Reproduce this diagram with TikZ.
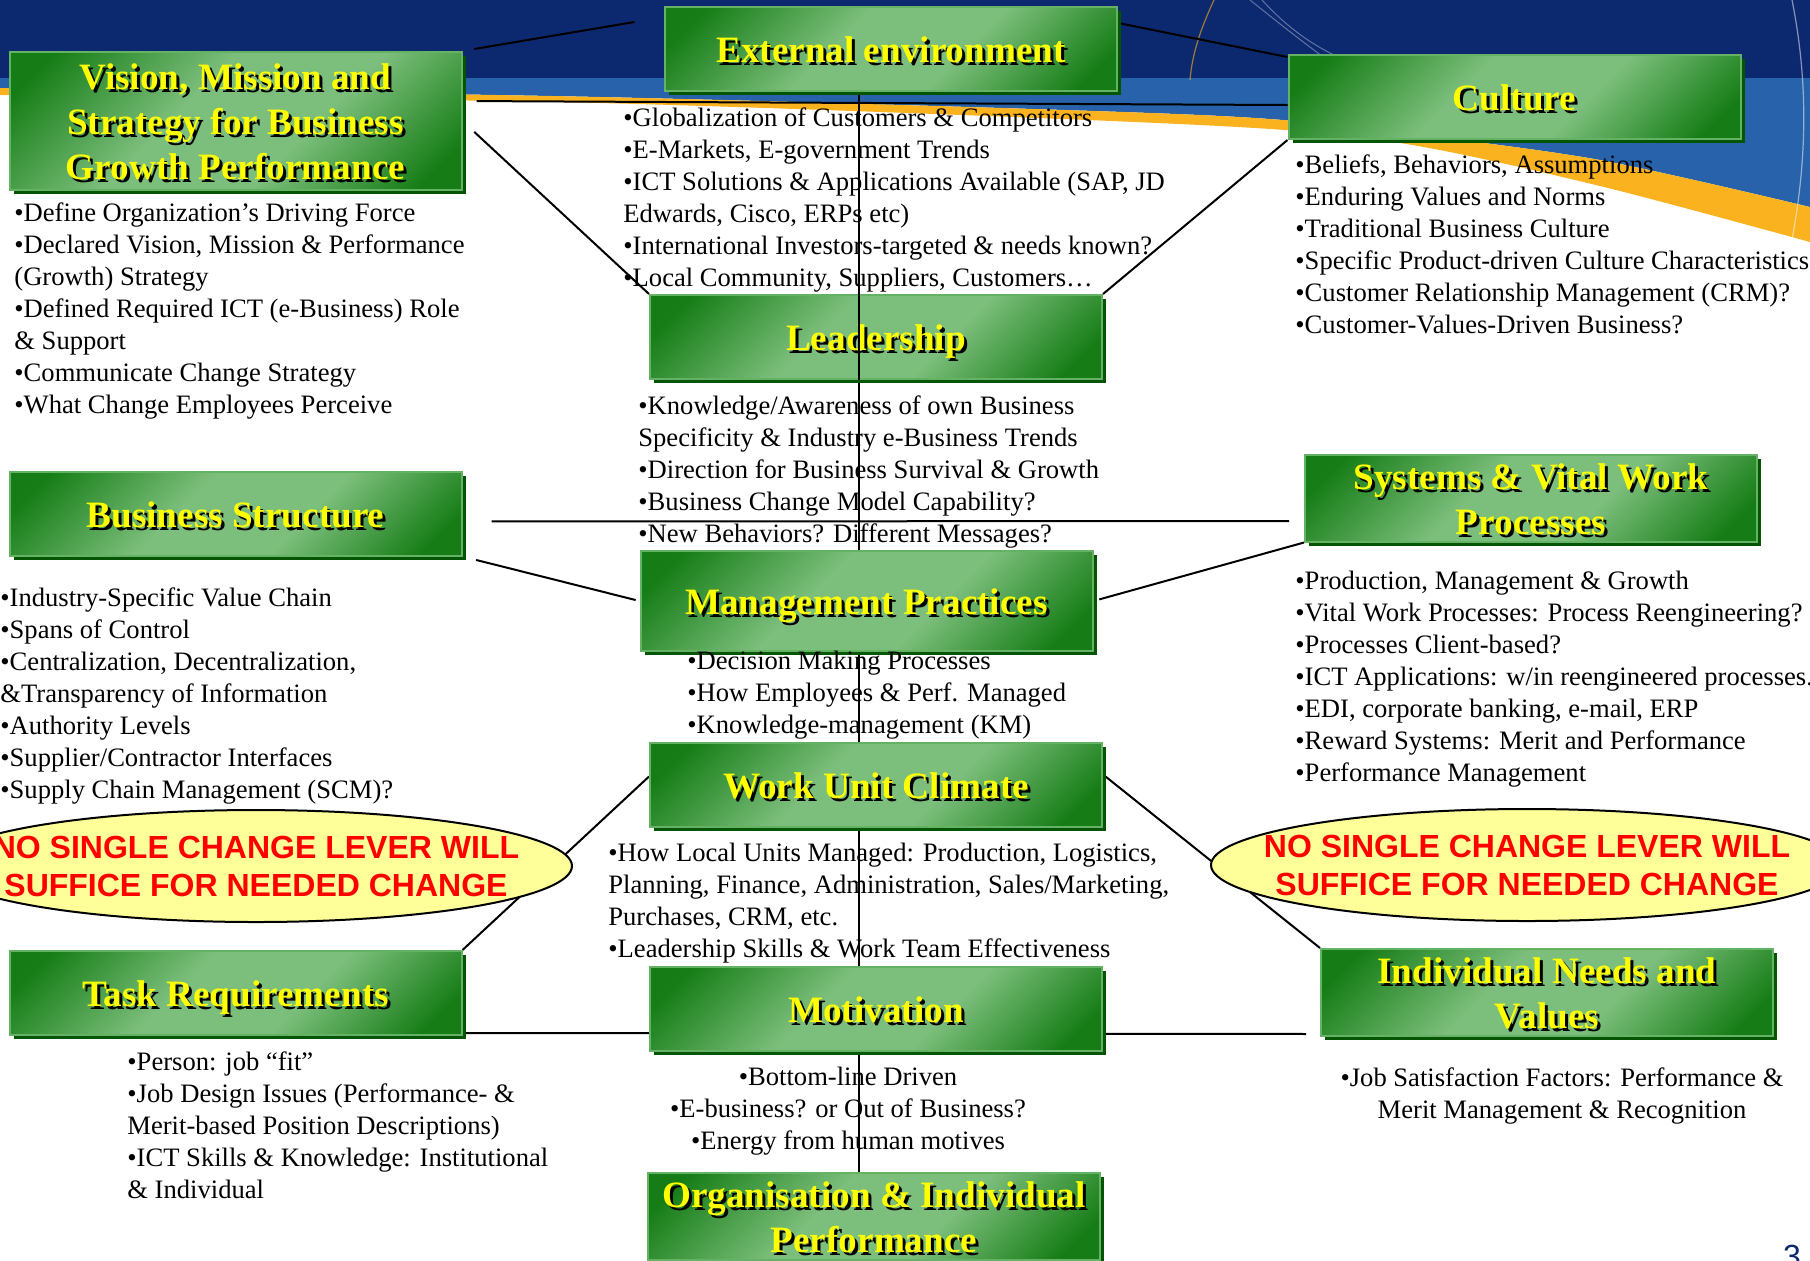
\documentclass[tikz,border=0pt]{standalone}
\usepackage{fontspec}
\setmainfont{Liberation Serif}
\newfontfamily\arialfont{Liberation Sans}
\usepackage{xcolor}
\usepackage{tikz}
\usetikzlibrary{shapes.geometric, positioning, calc, shadows}

\definecolor{boxdark}{RGB}{22,125,22}
\definecolor{boxlight}{RGB}{124,190,124}
\definecolor{boxedge}{RGB}{100,178,100}
\definecolor{boxshade}{RGB}{5,85,5}
\definecolor{navy}{RGB}{12,41,112}
\definecolor{bandblue}{RGB}{40,98,170}
\definecolor{swoosh}{RGB}{250,178,30}
\definecolor{notefill}{RGB}{255,255,153}
\definecolor{titleyellow}{RGB}{255,255,0}

\pgfdeclareverticalshading{leverfill}{100bp}{color(0bp)=(boxdark); color(20bp)=(boxdark); color(40bp)=(boxlight); color(58bp)=(boxlight); color(80bp)=(boxdark); color(100bp)=(boxdark)}

\newcommand{\titlefont}{\bfseries\fontsize{18.6}{22.5}\selectfont}
\newcommand{\notefont}{\fontsize{13.3}{16}\selectfont}
\newcommand{\warnfont}{\arialfont\bfseries\fontsize{16}{19}\selectfont}
\newcommand{\shadowed}[1]{\raisebox{-3pt}[\height][\depth]{\rlap{\hspace{1.5pt}\raisebox{-1.5pt}{\color{black}\begin{tabular}{@{}c@{}}#1\end{tabular}}}\begin{tabular}{@{}c@{}}#1\end{tabular}}}

\pgfdeclarelayer{scenery}
\pgfdeclarelayer{wires}
\pgfsetlayers{scenery,wires,main}

\begin{document}
\begin{tikzpicture}[
    x=0.5pt, y=-0.5pt,
    % Lever boxes
    lever/.style={rectangle, draw=boxedge, line width=1pt, shading=leverfill, shading angle=45, minimum width=226pt, minimum height=42pt, inner sep=0pt, text=titleyellow, font=\titlefont, drop shadow={opacity=1, fill=boxshade, shadow xshift=2pt, shadow yshift=-2pt}},
    notes/.style={font=\notefont, align=left, inner sep=0pt, anchor=north west},
    centrednotes/.style={font=\notefont, align=center, inner sep=0pt, anchor=north},
    warn/.style={ellipse, draw=black, line width=1pt, fill=notefill, text=red, font=\warnfont, align=center, minimum width=316pt, minimum height=56pt, inner xsep=-25pt, inner ysep=0pt},
    link/.style={draw=black, line width=1pt}
]
\useasboundingbox (0,0) rectangle (1810,1260);

% ========================================================
% BACKGROUND
% ========================================================
\begin{pgfonlayer}{scenery}
\fill[white] (0,0) rectangle (1810,1260);
\fill[bandblue] (0,0) -- (1810,0) -- plot[smooth] coordinates {(1810,207) (1600,160) (1400,133) (1200,115) (600,97) (0,88)} -- cycle;
\fill[navy] (0,0) rectangle (1810,78);
\fill[swoosh] plot[smooth] coordinates {(0,88) (600,97) (1200,115) (1400,133) (1600,160) (1810,207)} -- plot[smooth] coordinates {(1810,242) (1600,186) (1400,143) (1200,125) (600,103) (0,95)} -- cycle;
\draw[swoosh, line width=0.6pt, opacity=0.6] (1214,0) .. controls (1200,30) and (1192,55) .. (1190,80);
\draw[white, line width=0.5pt, opacity=0.35] (1250,0) .. controls (1275,20) and (1300,40) .. (1330,62);
\draw[white, line width=0.5pt, opacity=0.35] (1262,0) .. controls (1285,25) and (1310,45) .. (1345,60);
\draw[white, line width=0.6pt, opacity=0.5] (1792,0) .. controls (1808,80) and (1808,160) .. (1790,250);
\end{pgfonlayer}

% ========================================================
% CHANGE LEVERS
% ========================================================
\node[lever] (ext) at (891,49) {\shadowed{External environment}};
\node[lever, minimum height=66pt] (vision) at (235.5,121) {\shadowed{Vision, Mission and\\Strategy for Business\\Growth Performance}};
\node[lever] (culture) at (1514.5,97) {\shadowed{Culture}};
\node[lever] (lead) at (876,337) {\shadowed{Leadership}};
\node[lever] (bstruct) at (235.5,513.5) {\shadowed{Business Structure}};
\node[lever, inner ysep=-1.5pt] (systems) at (1531,498) {\shadowed{Systems \& Vital Work\\Processes}};
\node[lever, minimum height=50pt] (mgmt) at (866.5,601) {\shadowed{Management Practices}};
\node[lever] (climate) at (876,784.5) {\shadowed{Work Unit Climate}};
\node[lever] (task) at (235.5,993) {\shadowed{Task Requirements}};
\node[lever, inner ysep=-1.5pt] (needs) at (1547,992.5) {\shadowed{Individual Needs and\\Values}};
\node[lever] (motiv) at (876,1008.5) {\shadowed{Motivation}};
\node[lever, inner ysep=-1.5pt] (perf) at (874,1216) {\shadowed{Organisation \& Individual\\Performance}};

\coordinate (spine) at ($(ext.south)+(-32,0)$);

% Connectors (behind the boxes)
\begin{pgfonlayer}{wires}
\draw[link] (spine) -- (spine |- perf.north);
\draw[link, shorten <=6pt, shorten >=15pt] (vision.north east) -- ($(ext.north west)+(0,11)$);
\draw[link] ($(ext.north east)+(0,17)$) -- ($(culture.north west)+(0,3)$);
\draw[link, shorten <=7pt] ($(vision.north east)+(0,50)$) -- ($(culture.north west)+(0,51)$);
\draw[link, shorten <=8pt] (vision.east) -- (lead.north west);
\draw[link] (culture.south west) -- (lead.north east);
\draw[link, shorten <=14.5pt, shorten >=7.5pt] ($(bstruct.east)+(0,8)$) -- ($(systems.west)+(0,23)$);
\draw[link, shorten <=7pt, shorten >=2pt] (bstruct.south east) -- (mgmt.west);
\draw[link, shorten >=3pt] (systems.south west) -- (mgmt.east);
\draw[link] (task.north east) -- ($(climate.west)+(0,-8)$);
\draw[link] ($(climate.east)+(0,-10)$) -- (needs.north west);
\draw[link, shorten >=7pt] ($(task.south east)+(0,-3)$) -- ($(needs.south west)+(0,-3)$);
\end{pgfonlayer}

% spine runs over the leadership box
\draw[link] (spine |- lead.north) -- (spine |- lead.south);

% ========================================================
% NOTES UNDER EACH LEVER
% ========================================================
\node[notes] (extnotes) at (623,107) {•Globalization of Customers \& Competitors\\•E-Markets, E-government Trends\\•ICT Solutions \& Applications Available (SAP, JD\\Edwards, Cisco, ERPs etc)\\•International Investors-targeted \& needs known?\\•Local Community, Suppliers, Customers…};
\node[notes] (visionnotes) at (14,202) {•Define Organization’s Driving Force\\•Declared Vision, Mission \& Performance\\(Growth) Strategy\\•Defined Required ICT (e-Business) Role\\\& Support\\•Communicate Change Strategy\\•What Change Employees Perceive};
\node[notes] (culturenotes) at (1295,154) {•Beliefs, Behaviors, Assumptions\\•Enduring Values and Norms\\•Traditional Business Culture\\•Specific Product-driven Culture Characteristics\\•Customer Relationship Management (CRM)?\\•Customer-Values-Driven Business?};
\node[notes] (leadnotes) at (638,395) {•Knowledge/Awareness of own Business\\Specificity \& Industry e-Business Trends\\•Direction for Business Survival \& Growth\\•Business Change Model Capability?\\•New Behaviors? Different Messages?};
\node[notes] (bstructnotes) at (0,587) {•Industry-Specific Value Chain\\•Spans of Control\\•Centralization, Decentralization,\\\&Transparency of Information\\•Authority Levels\\•Supplier/Contractor Interfaces\\•Supply Chain Management (SCM)?};
\node[notes] (systemsnotes) at (1295,571) {•Production, Management \& Growth\\•Vital Work Processes: Process Reengineering?\\•Processes Client-based?\\•ICT Applications: w/in reengineered processes.\\•EDI, corporate banking, e-mail, ERP\\•Reward Systems: Merit and Performance\\•Performance Management};
\node[notes] (mgmtnotes) at (687,651) {•Decision Making Processes\\•How Employees \& Perf. Managed\\•Knowledge-management (KM)};
\node[notes] (climatenotes) at (608,843) {•How Local Units Managed: Production, Logistics,\\Planning, Finance, Administration, Sales/Marketing,\\Purchases, CRM, etc.\\•Leadership Skills \& Work Team Effectiveness};
\node[notes] (tasknotes) at (127,1051) {•Person: job “fit”\\•Job Design Issues (Performance- \&\\Merit-based Position Descriptions)\\•ICT Skills \& Knowledge: Institutional\\\& Individual};
\node[centrednotes] (motivnotes) at (848,1067) {•Bottom-line Driven\\•E-business? or Out of Business?\\•Energy from human motives};
\node[centrednotes] (needsnotes) at (1562,1067) {•Job Satisfaction Factors: Performance \&\\Merit Management \& Recognition};

% Warnings
\node[warn] (leftwarn) at (256,866) {NO SINGLE CHANGE LEVER WILL\\SUFFICE FOR NEEDED CHANGE};
\node[warn] (rightwarn) at (1527,865) {NO SINGLE CHANGE LEVER WILL\\SUFFICE FOR NEEDED CHANGE};

\node[font=\arialfont\fontsize{16}{16}\selectfont, text=navy, anchor=north, inner sep=0pt] (pageno) at (1792,1245) {3};

\end{tikzpicture}
\end{document}
